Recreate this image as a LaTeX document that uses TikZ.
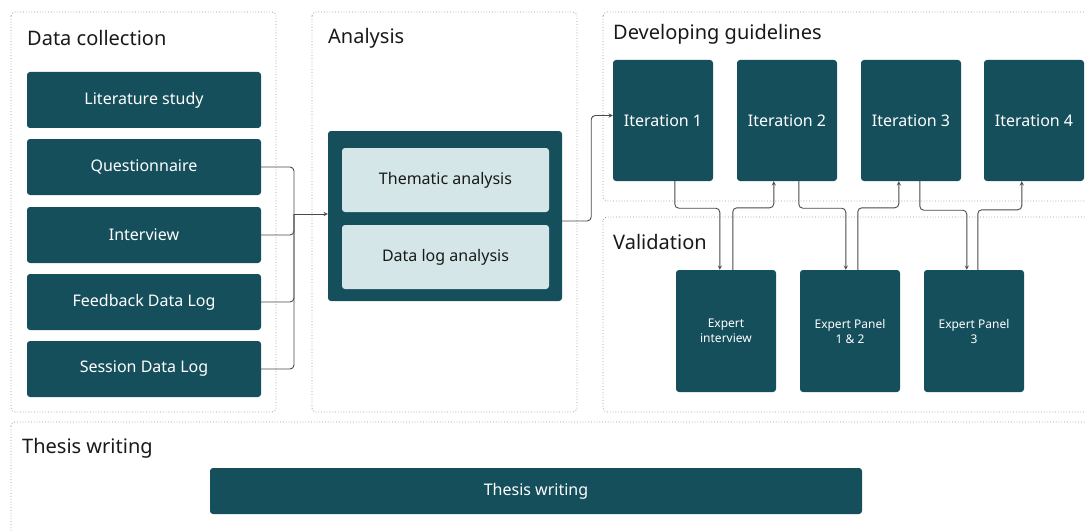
\documentclass[tikz,border=0pt]{standalone}
\usepackage{fontspec}
\setmainfont{Noto Sans}
\usetikzlibrary{positioning}

\definecolor{tealbox}{HTML}{154F5C}
\definecolor{lightbox}{HTML}{D5E6E8}
\definecolor{linegray}{HTML}{4A4A4A}

\begin{document}
\begin{tikzpicture}[x=1pt, y=-1pt,
    panel/.style = {draw=gray!80, dotted, line width=0.8pt, rounded corners=4pt},
    title/.style = {anchor=west, inner sep=0pt, font=\fontsize{20}{24}\selectfont, text=black!90},
    darkbox/.style = {fill=tealbox, rounded corners=3pt, text=white, inner sep=0pt,
                      font=\fontsize{16}{19}\selectfont, align=center},
    smallbox/.style = {darkbox, font=\fontsize{12}{15}\selectfont},
    lightfill/.style = {fill=lightbox, rounded corners=3pt, text=black!90, inner sep=0pt,
                        font=\fontsize{16}{19}\selectfont},
    conn/.style = {draw=linegray, line width=0.9pt, rounded corners=4pt},
    >=stealth]

  \useasboundingbox (0,0) rectangle (1086,532);

  % Draw the dotted panels
  \draw[panel] (11,12) rectangle (276,412);
  \draw[panel] (312,12) rectangle (577,412);
  \draw[panel] (603,12) rectangle (1096,201);
  \draw[panel] (603,217) rectangle (1096,412);
  \draw[panel] (11,422) rectangle (1096,545);

  \node[title] (tcol) at (27,38) {Data collection};
  \node[title] (tana) at (328,38) {Analysis};
  \node[title] (tdev) at (613,34) {Developing guidelines};
  \node[title] (tval) at (613,242) {Validation};
  \node[title] (tthe) at (22,448) {Thesis writing};

  % Data collection
  \node[darkbox, minimum width=234pt, minimum height=56pt] (lit) at (144,100) {Literature study};
  \node[darkbox, minimum width=234pt, minimum height=56pt] (quest) at (144,167) {Questionnaire};
  \node[darkbox, minimum width=234pt, minimum height=56pt] (inter) at (144,235) {Interview};
  \node[darkbox, minimum width=234pt, minimum height=56pt] (feed) at (144,302) {Feedback Data Log};
  \node[darkbox, minimum width=234pt, minimum height=56pt] (sess) at (144,369) {Session Data Log};

  % Analysis
  \node[darkbox, minimum width=234pt, minimum height=170pt] (anl) at (445,216) {};
  \node[lightfill, minimum width=207pt, minimum height=64pt] (them) at (445.5,180) {Thematic analysis};
  \node[lightfill, minimum width=207pt, minimum height=64pt] (dlog) at (445.5,257) {Data log analysis};

  % Developing guidelines
  \node[darkbox, minimum width=100pt, minimum height=121pt] (it1) at (663,120.5) {Iteration 1};
  \node[darkbox, minimum width=100pt, minimum height=121pt] (it2) at (787,120.5) {Iteration 2};
  \node[darkbox, minimum width=100pt, minimum height=121pt] (it3) at (911,120.5) {Iteration 3};
  \node[darkbox, minimum width=100pt, minimum height=121pt] (it4) at (1034,120.5) {Iteration 4};

  % Validation
  \node[smallbox, minimum width=100pt, minimum height=122pt] (ex1) at (726,331) {Expert\\interview};
  \node[smallbox, minimum width=100pt, minimum height=122pt] (ex2) at (850,331) {Expert Panel\\1 \& 2};
  \node[smallbox, minimum width=100pt, minimum height=122pt] (ex3) at (974,331) {Expert Panel\\3};

  % Thesis writing
  \node[darkbox, minimum width=652pt, minimum height=46pt] (thesis) at (536,491) {Thesis writing};

  % Draw connectors into the analysis
  \coordinate (bus) at (294,214);
  \draw[conn] (quest.east) -| (bus);
  \draw[conn] (inter.east) -| (bus);
  \draw[conn] (feed.east) -| (bus);
  \draw[conn] (sess.east) -| (bus);
  \draw[conn, ->] (bus) -- (bus -| anl.west);

  % Draw analysis to first iteration
  \draw[conn, ->] ([yshift=-5pt]anl.east) -- ++(29,0) |- ([yshift=5pt]it1.west);

  % Draw iterations to and from validation
  \draw[conn, ->] ([xshift=62pt]it1.south west) -- ++(0,27) -| ([xshift=44pt]ex1.north west);
  \draw[conn, ->] ([xshift=57pt]ex1.north west) -- ++(0,-62) -| ([xshift=37pt]it2.south west);
  \draw[conn, ->] ([xshift=62pt]it2.south west) -- ++(0,27) -| ([xshift=46pt]ex2.north west);
  \draw[conn, ->] ([xshift=58pt]ex2.north west) -- ++(0,-62) -| ([xshift=38pt]it3.south west);
  \draw[conn, ->] ([xshift=59pt]it3.south west) -- ++(0,29) -| ([xshift=43pt]ex3.north west);
  \draw[conn, ->] ([xshift=54pt]ex3.north west) -- ++(0,-60) -| ([xshift=38pt]it4.south west);
\end{tikzpicture}
\end{document}
